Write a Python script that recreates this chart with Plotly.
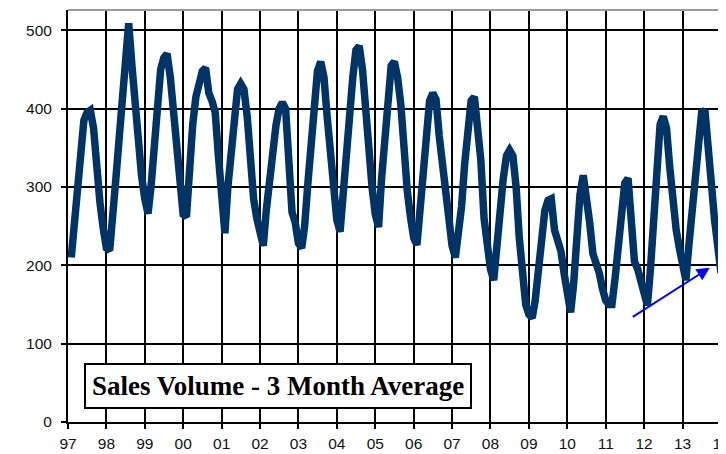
import pandas as pd
import plotly.graph_objects as go

# Monthly 3-month average sales volume, Feb 1997 .. Jan 2014
first_month = "1997-02-01"
sales_3m_avg = [
    # 1997 (Feb-Dec)
    210, 255, 310, 356, 385, 395, 398, 375, 320, 280, 248,
    # 1998
    222, 219, 255, 310, 360, 415, 470, 509, 455, 400, 350, 315,
    # 1999
    285, 266, 300, 360, 415, 450, 465, 470, 440, 396, 350, 296,
    # 2000
    265, 262, 334, 380, 415, 435, 448, 452, 420, 410, 395, 340,
    # 2001
    285, 241, 300, 345, 395, 425, 432, 425, 390, 325, 285, 260,
    # 2002
    245, 225, 270, 315, 350, 378, 400, 408, 400, 345, 268, 255,
    # 2003
    228, 222, 250, 305, 355, 405, 448, 460, 440, 390, 340, 295,
    # 2004
    258, 243, 295, 350, 395, 440, 475, 480, 450, 395, 345, 300,
    # 2005
    265, 249, 310, 370, 425, 455, 460, 440, 405, 345, 295, 262,
    # 2006
    235, 226, 275, 320, 360, 410, 420, 412, 365, 330, 290, 255,
    # 2007
    225, 210, 235, 275, 330, 385, 410, 415, 380, 335, 260, 225,
    # 2008
    195, 181, 230, 270, 310, 340, 347, 340, 300, 235, 185, 150,
    # 2009
    137, 133, 155, 190, 235, 270, 283, 285, 245, 232, 218, 190,
    # 2010
    160, 140, 175, 235, 290, 315, 290, 255, 215, 205, 190, 170,
    # 2011
    155, 150, 150, 185, 230, 275, 305, 311, 250, 205, 195, 180,
    # 2012
    160, 149, 195, 250, 330, 380, 390, 375, 325, 270, 245, 222,
    # 2013
    195, 181, 225, 270, 330, 375, 395, 398, 340, 300, 258, 225,
    # 2014 (Jan)
    190,
]
months = pd.date_range(first_month, periods=len(sales_3m_avg), freq="MS")

y_ticks = [0, 100, 200, 300, 400, 500]
x_start, x_end = "1997-01-01", "2014-01-01"

title_text = "Sales Volume - 3 Month Average"
arrow_tail = ("2011-09-01", 133)
arrow_head = ("2013-09-16", 197)

fig = go.Figure()
fig.add_trace(go.Scatter(
    x=months, y=sales_3m_avg, mode="lines",
    line=dict(color="#003366", width=7.5),
    hoverinfo="skip", showlegend=False,
))

tick_font = dict(family="Liberation Sans, Arial, sans-serif", size=15.5, color="#111111")

# The page body has an 8px default margin, so the figure is sized/offset to compensate.
fig.update_layout(
    width=718, height=446,
    margin=dict(l=60, r=5, t=2, b=32, autoexpand=False),
    paper_bgcolor="white", plot_bgcolor="white",
    showlegend=False,
    xaxis=dict(
        type="date", range=[x_start, x_end], automargin=False,
        tick0=x_start, dtick="M12", tickformat="%y",
        showgrid=True, gridcolor="#000000", gridwidth=1.5,
        showline=True, linecolor="#000000", linewidth=2,
        ticks="outside", ticklen=5, tickwidth=1.5, tickcolor="#000000",
        ticklabelstandoff=1, ticklabeloverflow="allow",
        tickfont=tick_font, zeroline=False,
    ),
    yaxis=dict(
        range=[0, 526], tickvals=y_ticks, automargin=False,
        showgrid=True, gridcolor="#000000", gridwidth=1.5,
        showline=True, linecolor="#000000", linewidth=2,
        ticks="outside", ticklen=5, tickwidth=1.5, tickcolor="#000000",
        ticklabelstandoff=6,
        tickfont=tick_font, zeroline=False,
    ),
    shapes=[
        dict(type="line", xref="paper", yref="paper", x0=0, x1=1, y0=1, y1=1,
             line=dict(color="#9a9a9a", width=2)),
        dict(type="line", xref="paper", yref="paper", x0=1, x1=1, y0=0, y1=1,
             line=dict(color="#9a9a9a", width=2)),
    ],
    annotations=[
        dict(
            text="<b>" + title_text + "</b>",
            xref="paper", yref="paper", x=0.322, y=0.0867,
            xanchor="center", yanchor="middle", showarrow=False,
            font=dict(family="Liberation Serif, Times New Roman, serif", size=27, color="#000000"),
            bgcolor="white", bordercolor="#000000", borderwidth=2, borderpad=6,
        ),
        dict(
            x=arrow_head[0], y=arrow_head[1], xref="x", yref="y",
            ax=arrow_tail[0], ay=arrow_tail[1], axref="x", ayref="y",
            showarrow=True, arrowhead=2, arrowsize=1.3, arrowwidth=2,
            arrowcolor="#0000ff", text="", standoff=0,
        ),
    ],
)

fig.write_html("out.html")
